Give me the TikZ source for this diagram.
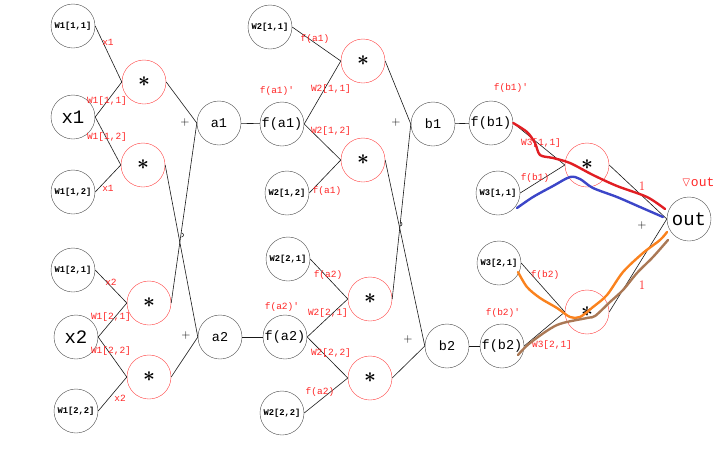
\documentclass[tikz,border=0pt]{standalone}
\usepackage{amsmath, amssymb}
\usepackage{fontspec}
\setmonofont{Liberation Mono}
\usepackage{xcolor}
\usetikzlibrary{positioning}

\definecolor{penred}{RGB}{225,30,35}
\definecolor{penblue}{RGB}{60,70,200}
\definecolor{penorange}{RGB}{250,130,30}
\definecolor{penbrown}{RGB}{170,120,85}

\begin{document}
\begin{tikzpicture}[x=1pt, y=-1pt,
            var/.style={circle, draw=black!70, thin, minimum size=44pt, inner sep=0pt, font=\ttfamily\fontsize{13.5}{13.5}\selectfont},
            wgt/.style={var, font=\ttfamily\bfseries\fontsize{8.8}{8.8}\selectfont},
            big/.style={var, font=\ttfamily\fontsize{19}{19}\selectfont},
            mul/.style={circle, draw=red!75, thin, minimum size=44pt, inner sep=0pt, font=\fontsize{22}{22}\selectfont},
            lbl/.style={text=red!85, font=\ttfamily\fontsize{9.5}{9.5}\selectfont, inner sep=0pt},
            plus/.style={font=\fontsize{12}{12}\selectfont, inner sep=0pt},
            wire/.style={line width=0.6pt, black!90},
            pen/.style={line width=2.4pt, line cap=round, line join=round}
        ]
            \useasboundingbox (0,0) rectangle (724,451);

            % layer 1
            \node[wgt] (w111) at (73,26) {W1[1,1]};
            \node[big] (x1) at (73,117) {x1};
            \node[wgt] (w112) at (73,192) {W1[1,2]};
            \node[wgt] (w121) at (73,270) {W1[2,1]};
            \node[big] (x2) at (76,337) {x2};
            \node[wgt] (w122) at (76,411) {W1[2,2]};
            \node[mul] (m11) at (144,82) {$\boldsymbol{\ast}$};
            \node[mul] (m12) at (143,165) {$\boldsymbol{\ast}$};
            \node[mul] (m21) at (149,303) {$\boldsymbol{\ast}$};
            \node[mul] (m22) at (149,377) {$\boldsymbol{\ast}$};
            \node[var] (a1) at (219,123) {a1};
            \node[var] (a2) at (220,337) {a2};

            % layer 2
            \node[var] (fa1) at (282,124) {f(a1)};
            \node[var] (fa2) at (285,337) {f(a2)};
            \node[wgt] (w211) at (270,27) {W2[1,1]};
            \node[wgt] (w212) at (287,193) {W2[1,2]};
            \node[wgt] (w221) at (288,259) {W2[2,1]};
            \node[wgt] (w222) at (282,413) {W2[2,2]};
            \node[mul] (n11) at (363,61) {$\boldsymbol{\ast}$};
            \node[mul] (n12) at (363,160) {$\boldsymbol{\ast}$};
            \node[mul] (n21) at (370,299) {$\boldsymbol{\ast}$};
            \node[mul] (n22) at (370,378) {$\boldsymbol{\ast}$};
            \node[var] (b1) at (433,124) {b1};
            \node[var] (b2) at (447,346) {b2};

            % layer 3
            \node[var] (fb1) at (491,123) {f(b1)};
            \node[var] (fb2) at (502,346) {f(b2)};
            \node[wgt] (w311) at (498,193) {W3[1,1]};
            \node[wgt] (w321) at (499,263) {W3[2,1]};
            \node[mul] (k1) at (587,165) {$\boldsymbol{\ast}$};
            \node[mul] (k2) at (587,312) {$\boldsymbol{\ast}$};
            \node[big] (out) at (689,219) {out};

            \draw[wire] (w111.east) -- (m11.west);
            \draw[wire] (x1.east) -- (m11.west);
            \draw[wire] (x1.east) -- (m12.west);
            \draw[wire] (w112.east) -- (m12.west);
            \draw[wire] (w121.east) -- (m21.west);
            \draw[wire] (x2.east) -- (m21.west);
            \draw[wire] (x2.east) -- (m22.west);
            \draw[wire] (w122.east) -- (m22.west);
            \draw[wire] (m11.east) -- (a1.west);
            \draw[wire] (m12.east) -- (a2.west);
            \draw[wire] (m21.east) -- (a1.west);
            \draw[wire] (m22.east) -- (a2.west);
            \draw[wire] (a1) -- (fa1);
            \draw[wire] (a2) -- (fa2);

            \draw[wire] (w211.east) -- (n11.west);
            \draw[wire] (fa1.east) -- (n11.west);
            \draw[wire] (fa1.east) -- (n12.west);
            \draw[wire] (w212.east) -- (n12.west);
            \draw[wire] (w221.east) -- (n21.west);
            \draw[wire] (fa2.east) -- (n21.west);
            \draw[wire] (fa2.east) -- (n22.west);
            \draw[wire] (w222.east) -- (n22.west);
            \draw[wire] (n11.east) -- (b1.west);
            \draw[wire] (n12.east) -- (b2.west);
            \draw[wire] (n21.east) -- (b1.west);
            \draw[wire] (n22.east) -- (b2.west);
            \draw[wire] (b1) -- (fb1);
            \draw[wire] (b2) -- (fb2);

            \draw[wire] (fb1.east) -- (k1.west);
            \draw[wire] (w311.east) -- (k1.west);
            \draw[wire] (k1.east) -- (out.west);
            \draw[wire] (w321.east) -- (k2.west);
            \draw[wire] (fb2.east) -- (k2.west);
            \draw[wire] (k2.east) -- (out.west);

            % little hops where the wires cross
            \draw[wire] (181.5,237) arc[start angle=90, end angle=-90, radius=2];
            \draw[wire] (400,226) arc[start angle=90, end angle=-90, radius=2];

            % labels
            \node[lbl] at (108,42) {x1};
            \node[lbl] at (107,101) {W1[1,1]};
            \node[lbl] at (107,137) {W1[1,2]};
            \node[lbl] at (108,188) {x1};
            \node[lbl] at (111,282) {x2};
            \node[lbl] at (111,317) {W1[2,1]};
            \node[lbl] at (111,351) {W1[2,2]};
            \node[lbl] at (120,398) {x2};
            \node[plus] at (185,122) {+};
            \node[plus] at (186,335) {+};

            \node[lbl] at (315,39) {f(a1)};
            \node[lbl] at (277,91) {f(a1)'};
            \node[lbl] at (331,89) {W2[1,1]};
            \node[lbl] at (331,131) {W2[1,2]};
            \node[lbl] at (327,191) {f(a1)};
            \node[lbl] at (328,275) {f(a2)};
            \node[lbl] at (282,307) {f(a2)'};
            \node[lbl] at (328,313) {W2[2,1]};
            \node[lbl] at (331,353) {W2[2,2]};
            \node[lbl] at (320,392) {f(a2)};
            \node[plus] at (396,122) {+};
            \node[plus] at (408,339) {+};

            \node[lbl] at (511,88) {f(b1)'};
            \node[lbl] at (541,143) {W3[1,1]};
            \node[lbl] at (535,178) {f(b1)};
            \node[lbl, font=\fontsize{13}{13}\selectfont] at (642,186) {1};
            \node[lbl, font=\fontsize{13}{13}\selectfont] at (698,182) {$\triangledown$\texttt{out}};
            \node[plus] at (642,225) {+};
            \node[lbl] at (545,275) {f(b2)};
            \node[lbl, font=\fontsize{13}{13}\selectfont] at (642,285) {1};
            \node[lbl] at (503,313) {f(b2)'};
            \node[lbl] at (552,345) {W3[2,1]};

            % hand-drawn strokes
            \draw[pen, penred] plot[smooth, tension=0.5] coordinates {(fb1.east) (527,132) (535,143) (540,155) (553,158) (570,163) (593,175) (617,186) (647,197) (665,209)};
            \draw[pen, penblue] plot[smooth, tension=0.5] coordinates {(517,208) (533,197) (553,186) (570,177) (580,179) (593,188) (617,197) (640,207) (663,217)};
            \draw[pen, penorange] plot[smooth, tension=0.5] coordinates {(518,272) (527,287) (540,298) (557,308) (570,317) (580,317) (593,307) (607,295) (623,272) (643,253) (660,240) (667,232)};
            \draw[pen, penbrown] plot[smooth, tension=0.5] coordinates {(518,355) (530,343) (557,325) (587,318) (595,316) (610,302) (623,290) (637,273) (653,257) (668,240)};

        \end{tikzpicture}
\end{document}
